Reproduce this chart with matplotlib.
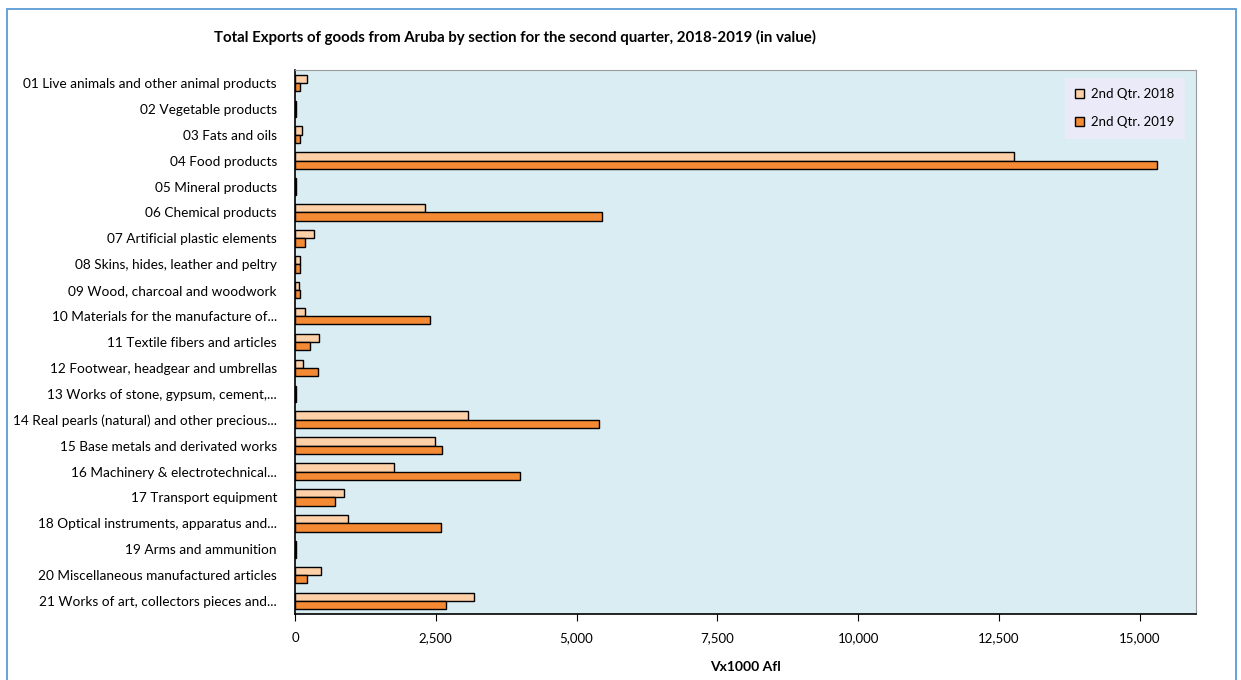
import matplotlib
matplotlib.use("Agg")
import matplotlib.pyplot as plt
import numpy as np
from matplotlib.patches import Rectangle
from matplotlib.ticker import FuncFormatter

# --- data (Vx1000 Afl) ---
categories = [
    "01 Live animals and other animal products",
    "02 Vegetable products",
    "03 Fats and oils",
    "04 Food products",
    "05 Mineral products",
    "06 Chemical products",
    "07 Artificial plastic elements",
    "08 Skins, hides, leather and peltry",
    "09 Wood, charcoal and woodwork",
    "10 Materials for the manufacture of...",
    "11 Textile fibers and articles",
    "12 Footwear, headgear and umbrellas",
    "13 Works of stone, gypsum, cement,...",
    "14 Real pearls (natural) and other precious...",
    "15 Base metals and derivated works",
    "16 Machinery & electrotechnical...",
    "17 Transport equipment",
    "18 Optical instruments, apparatus and...",
    "19 Arms and ammunition",
    "20 Miscellaneous manufactured articles",
    "21 Works of art, collectors pieces and...",
]
q2_2018 = [220, 20, 120, 12760, 20, 2310, 345, 95, 70, 170, 420, 140, 20,
           3080, 2485, 1765, 865, 950, 20, 470, 3185]
q2_2019 = [95, 15, 95, 15300, 15, 5450, 170, 95, 95, 2390, 275, 400, 15,
           5395, 2610, 4000, 715, 2585, 15, 220, 2680]
series_names = ["2nd Qtr. 2018", "2nd Qtr. 2019"]

plt.rcParams["font.family"] = ["Lato", "DejaVu Sans"]

fig = plt.figure(figsize=(12.41, 6.8), dpi=100)
W, H = 1241, 680
ax = fig.add_axes([295 / W, 1 - 614 / H, (1196 - 295) / W, (614 - 70) / H])

# outer chart border
fig.patches.append(Rectangle((7 / W, -0.01), (1236 - 7) / W, 1 - 9 / H + 0.01,
                             transform=fig.transFigure, fill=False,
                             edgecolor="#5B9BD5", linewidth=1.3))

y = np.arange(len(categories))
h = 0.32
ax.barh(y - h / 2, q2_2018, height=h, color="#FDD0A8", edgecolor="black",
        linewidth=1.0, label=series_names[0])
ax.barh(y + h / 2, q2_2019, height=h, color="#F58A35", edgecolor="black",
        linewidth=1.0, label=series_names[1])

ax.set_facecolor("#DAEDF3")
ax.set_xlim(0, 16000)
ax.set_ylim(len(categories) - 0.5, -0.5)
ax.set_yticks(y)
ax.set_yticklabels(categories, fontsize=9.8)
ax.tick_params(axis="y", length=0, pad=13)
ax.set_xticks(np.arange(0, 15001, 2500))
ax.xaxis.set_major_formatter(FuncFormatter(lambda v, p: f"{v:,.0f}"))
ax.tick_params(axis="x", labelsize=9.5, length=5, direction="out", pad=8)

for s in ["top", "right"]:
    ax.spines[s].set_color("#9a9a9a")
for s in ["left", "bottom"]:
    ax.spines[s].set_color("black")
    ax.spines[s].set_linewidth(1.2)

ax.set_xlabel("Vx1000 Afl", fontsize=10, fontweight="bold", labelpad=12)

fig.text(515 / W, 1 - 37 / H,
         "Total Exports of goods from Aruba by section for the second quarter, 2018-2019 (in value)",
         ha="center", va="center", fontsize=10.8, fontweight="bold")

leg = ax.legend(loc="upper right", bbox_to_anchor=(0.995, 0.998), fontsize=9.5,
                frameon=True, fancybox=False, labelspacing=1.2,
                handlelength=0.7, handleheight=0.7, handletextpad=0.5,
                borderpad=0.8)
leg.get_frame().set_facecolor("#EAEAF8")
leg.get_frame().set_edgecolor("none")
leg.get_frame().set_alpha(1)

fig.savefig("out.png", dpi=100)
